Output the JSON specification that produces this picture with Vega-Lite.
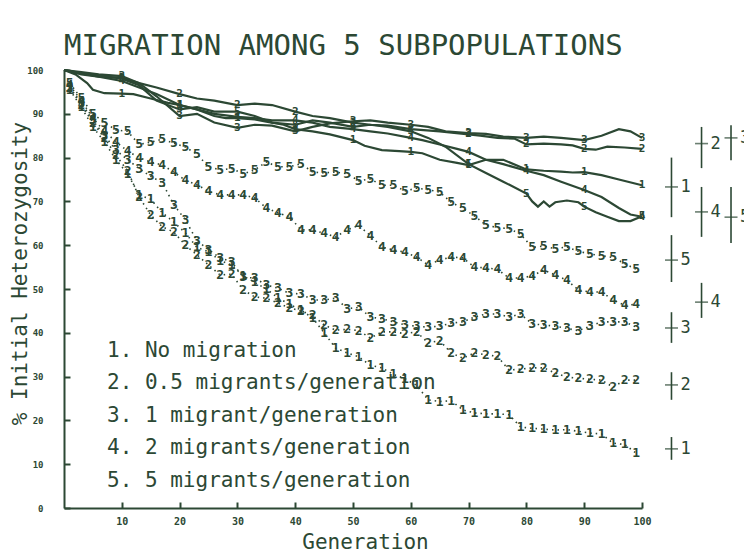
{
"$schema": "https://vega.github.io/schema/vega-lite/v6.json",
"width": 578, "height": 438,
"autosize": "none",
"padding": {"left": 64, "top": 70, "right": 102, "bottom": 46},
"background": "white",
"config": {
  "view": {"stroke": null},
  "font": "DejaVu Sans Mono",
  "axis": {"domainColor": "#2c4834", "tickColor": "#2c4834", "labelColor": "#2c4834", "titleColor": "#2c4834", "domainWidth": 2, "tickWidth": 2, "grid": false, "labelFont": "DejaVu Sans Mono", "titleFont": "DejaVu Sans Mono", "labelFontWeight": "bold", "titleFontWeight": "normal"}
},
"title": {"text": "MIGRATION AMONG 5 SUBPOPULATIONS", "anchor": "start", "frame": "group", "font": "DejaVu Sans Mono", "fontSize": 29, "fontWeight": "normal", "color": "#2c4834", "offset": 10, "baseline": "alphabetic", "dy": 28},
"datasets": {
"dotted": [
{"s":1,"g":1,"h":95.5},{"s":1,"g":3,"h":91.5},{"s":1,"g":5,"h":87},{"s":1,"g":7,"h":83.6},{"s":1,"g":9,"h":79.5},{"s":1,"g":11,"h":76.3},{"s":1,"g":13,"h":71.5},{"s":1,"g":15,"h":70.5},{"s":1,"g":17,"h":67.4},{"s":1,"g":19,"h":65.3},{"s":1,"g":21,"h":62.8},{"s":1,"g":23,"h":59.5},{"s":1,"g":25,"h":58.5},{"s":1,"g":27,"h":56.5},{"s":1,"g":29,"h":55.5},{"s":1,"g":31,"h":53},{"s":1,"g":33,"h":51.5},{"s":1,"g":35,"h":50},{"s":1,"g":37,"h":48},{"s":1,"g":39,"h":46.5},{"s":1,"g":41,"h":45.2},{"s":1,"g":43,"h":43.4},{"s":1,"g":45,"h":40},{"s":1,"g":47,"h":36.5},{"s":1,"g":49,"h":35.4},{"s":1,"g":51,"h":34.5},{"s":1,"g":53,"h":32.6},{"s":1,"g":55,"h":32},{"s":1,"g":57,"h":30.5},{"s":1,"g":59,"h":29.5},{"s":1,"g":61,"h":28},{"s":1,"g":63,"h":24.7},{"s":1,"g":65,"h":24.3},{"s":1,"g":67,"h":24.5},{"s":1,"g":69,"h":22.4},{"s":1,"g":71,"h":21.7},{"s":1,"g":73,"h":21.5},{"s":1,"g":75,"h":21.5},{"s":1,"g":77,"h":21.3},{"s":1,"g":79,"h":18.5},{"s":1,"g":81,"h":18.2},{"s":1,"g":83,"h":18},{"s":1,"g":85,"h":17.8},{"s":1,"g":87,"h":17.9},{"s":1,"g":89,"h":17.5},{"s":1,"g":91,"h":17.1},{"s":1,"g":93,"h":16.9},{"s":1,"g":95,"h":14.8},{"s":1,"g":97,"h":14.5},{"s":1,"g":99,"h":12.5},
{"s":2,"g":1,"h":96},{"s":2,"g":3,"h":92},{"s":2,"g":5,"h":88},{"s":2,"g":7,"h":84.5},{"s":2,"g":9,"h":80.5},{"s":2,"g":11,"h":77},{"s":2,"g":13,"h":71},{"s":2,"g":15,"h":66.9},{"s":2,"g":17,"h":64.2},{"s":2,"g":19,"h":63},{"s":2,"g":21,"h":60},{"s":2,"g":23,"h":57.8},{"s":2,"g":25,"h":55.5},{"s":2,"g":27,"h":53.2},{"s":2,"g":29,"h":53.4},{"s":2,"g":31,"h":49.8},{"s":2,"g":33,"h":48.2},{"s":2,"g":35,"h":47.9},{"s":2,"g":37,"h":46.8},{"s":2,"g":39,"h":45.7},{"s":2,"g":41,"h":45},{"s":2,"g":43,"h":44},{"s":2,"g":45,"h":41.8},{"s":2,"g":47,"h":40.6},{"s":2,"g":49,"h":40.8},{"s":2,"g":51,"h":40.5},{"s":2,"g":53,"h":38.8},{"s":2,"g":55,"h":40.2},{"s":2,"g":57,"h":40.2},{"s":2,"g":59,"h":39.8},{"s":2,"g":61,"h":40.2},{"s":2,"g":63,"h":37.7},{"s":2,"g":65,"h":38.2},{"s":2,"g":67,"h":35.4},{"s":2,"g":69,"h":34.2},{"s":2,"g":71,"h":35.4},{"s":2,"g":73,"h":35},{"s":2,"g":75,"h":34.6},{"s":2,"g":77,"h":31.5},{"s":2,"g":79,"h":31.7},{"s":2,"g":81,"h":32},{"s":2,"g":83,"h":32},{"s":2,"g":85,"h":30.8},{"s":2,"g":87,"h":29.9},{"s":2,"g":89,"h":29.6},{"s":2,"g":91,"h":29.4},{"s":2,"g":93,"h":29.2},{"s":2,"g":95,"h":27.6},{"s":2,"g":97,"h":29.2},{"s":2,"g":99,"h":29.2},
{"s":3,"g":1,"h":96},{"s":3,"g":3,"h":92.5},{"s":3,"g":5,"h":88.5},{"s":3,"g":7,"h":85},{"s":3,"g":9,"h":81.7},{"s":3,"g":11,"h":79.5},{"s":3,"g":13,"h":77.5},{"s":3,"g":15,"h":75.7},{"s":3,"g":17,"h":74.3},{"s":3,"g":19,"h":69.2},{"s":3,"g":21,"h":65.8},{"s":3,"g":23,"h":61},{"s":3,"g":25,"h":59},{"s":3,"g":27,"h":57.1},{"s":3,"g":29,"h":56.2},{"s":3,"g":31,"h":52.7},{"s":3,"g":33,"h":52.5},{"s":3,"g":35,"h":50.9},{"s":3,"g":37,"h":50.2},{"s":3,"g":39,"h":49},{"s":3,"g":41,"h":48.9},{"s":3,"g":43,"h":47.5},{"s":3,"g":45,"h":47.5},{"s":3,"g":47,"h":47.9},{"s":3,"g":49,"h":45.5},{"s":3,"g":51,"h":45.8},{"s":3,"g":53,"h":43.6},{"s":3,"g":55,"h":43.2},{"s":3,"g":57,"h":42.5},{"s":3,"g":59,"h":41.8},{"s":3,"g":61,"h":41.5},{"s":3,"g":63,"h":41.3},{"s":3,"g":65,"h":41.5},{"s":3,"g":67,"h":42.2},{"s":3,"g":69,"h":42.5},{"s":3,"g":71,"h":43.6},{"s":3,"g":73,"h":44.3},{"s":3,"g":75,"h":44.3},{"s":3,"g":77,"h":43.6},{"s":3,"g":79,"h":44.3},{"s":3,"g":81,"h":42},{"s":3,"g":83,"h":41.8},{"s":3,"g":85,"h":41.5},{"s":3,"g":87,"h":41},{"s":3,"g":89,"h":40.5},{"s":3,"g":91,"h":41.5},{"s":3,"g":93,"h":42.5},{"s":3,"g":95,"h":42.5},{"s":3,"g":97,"h":42.5},{"s":3,"g":99,"h":41.3},
{"s":4,"g":1,"h":96.5},{"s":4,"g":3,"h":93},{"s":4,"g":5,"h":89},{"s":4,"g":7,"h":86},{"s":4,"g":9,"h":83.6},{"s":4,"g":11,"h":81.5},{"s":4,"g":13,"h":80},{"s":4,"g":15,"h":79},{"s":4,"g":17,"h":78.3},{"s":4,"g":19,"h":76.7},{"s":4,"g":21,"h":74.8},{"s":4,"g":23,"h":73.8},{"s":4,"g":25,"h":72.3},{"s":4,"g":27,"h":71.5},{"s":4,"g":29,"h":71.5},{"s":4,"g":31,"h":71.5},{"s":4,"g":33,"h":70.8},{"s":4,"g":35,"h":68.5},{"s":4,"g":37,"h":67.4},{"s":4,"g":39,"h":66.5},{"s":4,"g":41,"h":63.5},{"s":4,"g":43,"h":63.5},{"s":4,"g":45,"h":62.7},{"s":4,"g":47,"h":61.9},{"s":4,"g":49,"h":63.5},{"s":4,"g":51,"h":64.5},{"s":4,"g":53,"h":62.2},{"s":4,"g":55,"h":59.6},{"s":4,"g":57,"h":58.9},{"s":4,"g":59,"h":58.4},{"s":4,"g":61,"h":57.3},{"s":4,"g":63,"h":55.5},{"s":4,"g":65,"h":56.6},{"s":4,"g":67,"h":57.3},{"s":4,"g":69,"h":57.1},{"s":4,"g":71,"h":55},{"s":4,"g":73,"h":54.8},{"s":4,"g":75,"h":54.5},{"s":4,"g":77,"h":52.5},{"s":4,"g":79,"h":52.5},{"s":4,"g":81,"h":53},{"s":4,"g":83,"h":54.3},{"s":4,"g":85,"h":53.2},{"s":4,"g":87,"h":52},{"s":4,"g":89,"h":49.8},{"s":4,"g":91,"h":49.3},{"s":4,"g":93,"h":49.3},{"s":4,"g":95,"h":47.5},{"s":4,"g":97,"h":46.3},{"s":4,"g":99,"h":46.5},
{"s":5,"g":1,"h":97},{"s":5,"g":3,"h":93.5},{"s":5,"g":5,"h":90},{"s":5,"g":7,"h":88},{"s":5,"g":9,"h":86.3},{"s":5,"g":11,"h":86},{"s":5,"g":13,"h":83},{"s":5,"g":15,"h":83.5},{"s":5,"g":17,"h":84.2},{"s":5,"g":19,"h":83.3},{"s":5,"g":21,"h":82.4},{"s":5,"g":23,"h":80.8},{"s":5,"g":25,"h":77.9},{"s":5,"g":27,"h":77.2},{"s":5,"g":29,"h":77.5},{"s":5,"g":31,"h":76.3},{"s":5,"g":33,"h":77.2},{"s":5,"g":35,"h":79},{"s":5,"g":37,"h":77.9},{"s":5,"g":39,"h":77.9},{"s":5,"g":41,"h":78.6},{"s":5,"g":43,"h":76.7},{"s":5,"g":45,"h":76.5},{"s":5,"g":47,"h":76.7},{"s":5,"g":49,"h":76.3},{"s":5,"g":51,"h":74.7},{"s":5,"g":53,"h":75.1},{"s":5,"g":55,"h":73.7},{"s":5,"g":57,"h":73.7},{"s":5,"g":59,"h":72.4},{"s":5,"g":61,"h":73},{"s":5,"g":63,"h":72.7},{"s":5,"g":65,"h":72.1},{"s":5,"g":67,"h":69.8},{"s":5,"g":69,"h":68.4},{"s":5,"g":71,"h":66.7},{"s":5,"g":73,"h":64.6},{"s":5,"g":75,"h":64},{"s":5,"g":77,"h":63.8},{"s":5,"g":79,"h":62.5},{"s":5,"g":81,"h":59.5},{"s":5,"g":83,"h":59.8},{"s":5,"g":85,"h":59.2},{"s":5,"g":87,"h":59.6},{"s":5,"g":89,"h":58.6},{"s":5,"g":91,"h":58},{"s":5,"g":93,"h":57.6},{"s":5,"g":95,"h":57.2},{"s":5,"g":97,"h":55.8},{"s":5,"g":99,"h":54.5}
],
"solid": [
{"s":1,"g":0,"h":100},{"s":1,"g":2,"h":99},{"s":1,"g":4,"h":97},{"s":1,"g":5,"h":95.5},{"s":1,"g":7,"h":94.7},{"s":1,"g":10,"h":94.6},{"s":1,"g":12,"h":94.5},{"s":1,"g":15,"h":93.5},{"s":1,"g":18,"h":92.5},{"s":1,"g":20,"h":92},{"s":1,"g":23,"h":91},{"s":1,"g":26,"h":89.5},{"s":1,"g":28,"h":89},{"s":1,"g":30,"h":89},{"s":1,"g":33,"h":88.7},{"s":1,"g":35,"h":88.2},{"s":1,"g":38,"h":87.5},{"s":1,"g":40,"h":86.5},{"s":1,"g":43,"h":86},{"s":1,"g":46,"h":85.3},{"s":1,"g":50,"h":84},{"s":1,"g":52,"h":82.7},{"s":1,"g":55,"h":81.7},{"s":1,"g":58,"h":81.5},{"s":1,"g":60,"h":81.3},{"s":1,"g":62,"h":81},{"s":1,"g":65,"h":79.5},{"s":1,"g":68,"h":78.8},{"s":1,"g":70,"h":78.3},{"s":1,"g":73,"h":79.5},{"s":1,"g":76,"h":79.5},{"s":1,"g":80,"h":77.3},{"s":1,"g":83,"h":77},{"s":1,"g":86,"h":76.8},{"s":1,"g":88,"h":76.6},{"s":1,"g":90,"h":76.7},{"s":1,"g":93,"h":76},{"s":1,"g":96,"h":75},{"s":1,"g":100,"h":73.7},
{"s":2,"g":0,"h":100},{"s":2,"g":3,"h":99.2},{"s":2,"g":6,"h":98.5},{"s":2,"g":10,"h":98.2},{"s":2,"g":13,"h":97},{"s":2,"g":16,"h":96},{"s":2,"g":20,"h":94.5},{"s":2,"g":23,"h":93.5},{"s":2,"g":26,"h":93},{"s":2,"g":30,"h":92},{"s":2,"g":33,"h":92.3},{"s":2,"g":36,"h":92},{"s":2,"g":40,"h":90.5},{"s":2,"g":43,"h":89.5},{"s":2,"g":46,"h":89},{"s":2,"g":50,"h":88},{"s":2,"g":53,"h":87.5},{"s":2,"g":56,"h":87.3},{"s":2,"g":60,"h":86.5},{"s":2,"g":65,"h":86},{"s":2,"g":70,"h":85.3},{"s":2,"g":72,"h":85},{"s":2,"g":75,"h":84.5},{"s":2,"g":78,"h":84.3},{"s":2,"g":80,"h":83},{"s":2,"g":83,"h":83.2},{"s":2,"g":86,"h":83},{"s":2,"g":88,"h":82.8},{"s":2,"g":90,"h":82},{"s":2,"g":92,"h":81.8},{"s":2,"g":94,"h":82.5},{"s":2,"g":97,"h":82.3},{"s":2,"g":100,"h":82},
{"s":3,"g":0,"h":100},{"s":3,"g":3,"h":99.5},{"s":3,"g":6,"h":99},{"s":3,"g":10,"h":98.6},{"s":3,"g":13,"h":97},{"s":3,"g":16,"h":94},{"s":3,"g":20,"h":89.5},{"s":3,"g":23,"h":90},{"s":3,"g":26,"h":88},{"s":3,"g":30,"h":86.8},{"s":3,"g":33,"h":87.5},{"s":3,"g":36,"h":87.3},{"s":3,"g":40,"h":86},{"s":3,"g":43,"h":87},{"s":3,"g":46,"h":87.8},{"s":3,"g":50,"h":88.3},{"s":3,"g":53,"h":88.5},{"s":3,"g":56,"h":88},{"s":3,"g":60,"h":87.5},{"s":3,"g":63,"h":87},{"s":3,"g":66,"h":86},{"s":3,"g":70,"h":85.6},{"s":3,"g":73,"h":85.4},{"s":3,"g":76,"h":84.8},{"s":3,"g":80,"h":84.5},{"s":3,"g":83,"h":84.8},{"s":3,"g":86,"h":84.5},{"s":3,"g":90,"h":84},{"s":3,"g":93,"h":85},{"s":3,"g":96,"h":86.5},{"s":3,"g":98,"h":86},{"s":3,"g":100,"h":84.5},
{"s":4,"g":0,"h":100},{"s":4,"g":3,"h":99},{"s":4,"g":6,"h":98.5},{"s":4,"g":10,"h":97.5},{"s":4,"g":13,"h":96},{"s":4,"g":16,"h":94.5},{"s":4,"g":20,"h":92},{"s":4,"g":23,"h":91},{"s":4,"g":26,"h":90},{"s":4,"g":30,"h":89.3},{"s":4,"g":33,"h":89},{"s":4,"g":36,"h":88.5},{"s":4,"g":40,"h":88.5},{"s":4,"g":43,"h":88},{"s":4,"g":46,"h":87},{"s":4,"g":50,"h":86.5},{"s":4,"g":53,"h":86},{"s":4,"g":56,"h":85.5},{"s":4,"g":60,"h":84.5},{"s":4,"g":62,"h":84},{"s":4,"g":65,"h":83},{"s":4,"g":68,"h":82},{"s":4,"g":70,"h":81.3},{"s":4,"g":73,"h":79.5},{"s":4,"g":76,"h":78.5},{"s":4,"g":80,"h":77},{"s":4,"g":83,"h":76},{"s":4,"g":86,"h":74.5},{"s":4,"g":90,"h":72.6},{"s":4,"g":93,"h":71},{"s":4,"g":96,"h":68.5},{"s":4,"g":98,"h":67},{"s":4,"g":100,"h":66.5},
{"s":5,"g":0,"h":100},{"s":5,"g":3,"h":99.3},{"s":5,"g":6,"h":98.8},{"s":5,"g":10,"h":98},{"s":5,"g":13,"h":96.5},{"s":5,"g":16,"h":93},{"s":5,"g":20,"h":91},{"s":5,"g":23,"h":91.5},{"s":5,"g":26,"h":90.5},{"s":5,"g":30,"h":90.5},{"s":5,"g":33,"h":89.5},{"s":5,"g":36,"h":88},{"s":5,"g":40,"h":87.5},{"s":5,"g":43,"h":88.5},{"s":5,"g":46,"h":88},{"s":5,"g":50,"h":87},{"s":5,"g":53,"h":87.5},{"s":5,"g":56,"h":87},{"s":5,"g":60,"h":86},{"s":5,"g":63,"h":84.5},{"s":5,"g":66,"h":82.5},{"s":5,"g":70,"h":78.5},{"s":5,"g":73,"h":76.5},{"s":5,"g":76,"h":74.5},{"s":5,"g":80,"h":71.8},{"s":5,"g":81,"h":70},{"s":5,"g":82,"h":68.8},{"s":5,"g":83,"h":70},{"s":5,"g":84,"h":68.8},{"s":5,"g":85,"h":69.8},{"s":5,"g":87,"h":70.2},{"s":5,"g":89,"h":69.8},{"s":5,"g":90,"h":68.8},{"s":5,"g":92,"h":67.5},{"s":5,"g":94,"h":66.5},{"s":5,"g":96,"h":65.5},{"s":5,"g":98,"h":65.5},{"s":5,"g":100,"h":66.6}
],
"bars": [
{"s":1,"g":105.1,"m":73.3,"lo":66.4,"hi":80},
{"s":2,"g":110.3,"m":83.2,"lo":77.6,"hi":87},
{"s":3,"g":115.4,"m":84.5,"lo":79.4,"hi":87.4},
{"s":4,"g":110.3,"m":67.6,"lo":61.9,"hi":73.3},
{"s":5,"g":115.4,"m":66.4,"lo":60.5,"hi":73.3},
{"s":5,"g":105.1,"m":56.6,"lo":51.6,"hi":62.3},
{"s":4,"g":110.3,"m":47,"lo":43.4,"hi":51.4},
{"s":3,"g":105.1,"m":41.1,"lo":37.7,"hi":44.7},
{"s":2,"g":105.1,"m":28.1,"lo":24.7,"hi":31},
{"s":1,"g":105.1,"m":13.5,"lo":11,"hi":16.2}
]
},
"encoding": {
  "x": {"field": "g", "type": "quantitative", "scale": {"domain": [0, 100], "nice": false, "zero": false},
        "axis": {"values": [10,20,30,40,50,60,70,80,90,100], "title": "Generation", "tickSize": -6, "labelFontSize": 10, "labelPadding": 14, "labelFlush": false, "titleFontSize": 21, "titleX": 301, "titleY": 34, "titleBaseline": "middle"}}
},
"layer": [
  {
    "encoding": {
      "y": {"field": "h", "type": "quantitative", "scale": {"domain": [0, 100], "nice": false},
            "axis": {"orient": "left", "values": [0,10,20,30,40,50,60,70,80,90,100], "title": "% Initial Heterozygosity", "tickSize": -6, "labelFontSize": 9, "labelPadding": 27, "labelFlush": false, "titleFontSize": 21, "titleX": -44, "titleY": 203, "titleBaseline": "middle", "titleAlign": "center"}}
    },
    "layer": [
      {"data": {"name": "dotted"}, "mark": {"type": "line", "color": "#2c4834", "strokeWidth": 1.6, "strokeDash": [1.5, 4]}, "encoding": {"detail": {"field": "s"}}},
      {"data": {"name": "dotted"}, "mark": {"type": "text", "font": "DejaVu Sans Mono", "fontWeight": "bold", "fontSize": 13, "baseline": "middle", "align": "center"},
       "encoding": {"text": {"field": "s"},
                    "color": {"field": "s", "type": "nominal", "scale": {"domain": [1,2,3,4,5], "range": ["#2c4834","#2c4834","#2c4834","#2c4834","#2c4834"]},
                              "legend": {"orient": "none", "legendX": 22, "legendY": 270, "title": null, "direction": "vertical", "symbolSize": 0, "symbolOpacity": 0, "symbolStrokeWidth": 0, "labelOffset": 0, "labelFont": "DejaVu Sans Mono", "labelFontSize": 21, "labelColor": "#2c4834", "labelLimit": 0, "rowPadding": 10.5,
                                         "labelExpr": "['', '1. No migration', '2. 0.5 migrants/generation', '3. 1 migrant/generation', '4. 2 migrants/generation', '5. 5 migrants/generation'][+datum.label]"}}}},
      {"data": {"name": "solid"}, "mark": {"type": "line", "color": "#2c4834", "strokeWidth": 2.2}, "encoding": {"detail": {"field": "s"}}},
      {"data": {"name": "solid"}, "transform": [{"filter": "datum.g % 10 == 0 && datum.g > 0"}], "mark": {"type": "text", "font": "DejaVu Sans Mono", "fontWeight": "bold", "fontSize": 11, "baseline": "middle", "align": "center", "color": "#2c4834"}, "encoding": {"text": {"field": "s"}}}
    ]
  },
  {
    "data": {"name": "bars"},
    "layer": [
      {"mark": {"type": "rule", "color": "#2c4834", "strokeWidth": 1.6},
       "encoding": {"y": {"field": "lo", "type": "quantitative", "scale": {"domain": [0, 100], "nice": false},
                          "axis": {"orient": "right", "values": [0,10,20,30,40,50,60,70,80,90,100], "title": null, "tickSize": -6, "labelFontSize": 10, "labelPadding": 14, "labelFlush": false}},
                    "y2": {"field": "hi"}}},
      {"mark": {"type": "tick", "orient": "horizontal", "color": "#2c4834", "size": 13, "thickness": 1.6},
       "encoding": {"y": {"field": "m", "type": "quantitative", "scale": {"domain": [0, 100], "nice": false}, "axis": null}}},
      {"mark": {"type": "text", "font": "DejaVu Sans Mono", "fontSize": 17, "align": "left", "baseline": "middle", "dx": 9, "color": "#2c4834"},
       "encoding": {"y": {"field": "m", "type": "quantitative", "scale": {"domain": [0, 100], "nice": false}, "axis": null}, "text": {"field": "s"}}}
    ]
  }
],
"resolve": {"scale": {"y": "independent"}}
}
